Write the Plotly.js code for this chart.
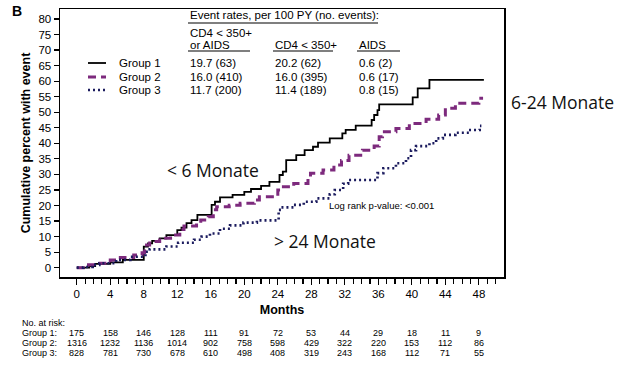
<!DOCTYPE html>
<html>
<head>
<meta charset="utf-8">
<script src="https://cdn.plot.ly/plotly-3.0.1.min.js"></script>
<style>html,body{margin:0;padding:0;background:#fff;}#chart{width:620px;height:367px;}</style>
</head>
<body>
<div id="chart"></div>
<script>
// ---- data ----
const groupNames = ["Group 1", "Group 2", "Group 3"];
const g1Months = [0,1.5,2.2,4,5.5,8,8.5,9,9.9,10.7,12,12.5,13.1,13.7,14.4,16.1,16.5,17.1,18.6,20,20.8,22,23,24.2,24.6,25,26.2,27.2,28.2,28.8,30.2,31.7,32.1,33.3,35.2,35.5,35.9,36.1,40.1,40.7,42.1,48.6];
const g1Pct    = [0,0.5,1.2,1.7,2.5,6.8,7.8,8.6,9.4,10.5,12.1,12.9,14.3,15.3,17,20.2,21.2,22.6,23.4,24.4,25.3,26.3,27.6,29.8,30.9,34.6,36.2,37.8,38.9,40.2,41.6,43.2,44.3,45.7,47.5,49.1,50.7,52.5,54.8,57.7,60.4,60.4];
const g2Months = [0,1,1.4,2.3,4,5.2,6.8,7.8,8.1,8.7,9.9,11.2,12.3,12.8,14.3,14.8,15.7,16.3,16.7,18.2,19.5,21.2,21.8,24,24.3,25.9,27.6,27.9,29.4,30.7,31.6,32.5,34.1,35.5,36.1,36.5,38.1,39.7,41.7,43.2,44,45.2,48,48.5];
const g2Pct    = [0,0.4,0.9,1.4,2.5,3.3,4.1,4.8,7.3,8.4,9.5,10.5,12.3,13.4,14.3,15.3,16.4,18.6,19.6,20.1,20.7,21.8,22.8,25,26,27.1,29.3,30.4,31.4,33,34.5,36.2,37.8,39.1,42.1,43.7,44.8,46.4,47.7,49.1,51.3,52.9,54.5,54.5];
const g3Months = [0,0.8,1.9,2.7,4.7,6.4,8.2,8.7,10.7,12.1,14,14.9,15.9,17.1,18.3,19.9,21.5,24.1,24.4,25.9,27.1,28.6,30.2,30.8,31.8,32.4,35.9,36.6,38.1,39.3,39.9,40.5,42.1,42.9,43.7,45.2,46.8,48.1,48.3];
const g3Pct    = [0,0.2,0.9,1.4,2.5,3.5,5.1,5.9,6.8,8,9,10,11,12.5,13.6,14.5,15.2,18.6,19.4,20.2,21.2,22.3,23.6,25,27,28.2,30.4,32,33.6,35.2,37.8,39.1,40,41.6,42.7,43.4,44.3,45.6,45.6];

const xTickVals = [0,4,8,12,16,20,24,28,32,36,40,44,48];
const riskMonths = [0,4,8,12,16,20,24,28,32,36,40,44,48];
const risk1 = [175,158,146,128,111,91,72,53,44,29,18,11,9];
const risk2 = [1316,1232,1136,1014,902,758,598,429,322,220,153,112,86];
const risk3 = [828,781,730,678,610,498,408,319,243,168,112,71,55];

const tableHeader = "Event rates, per 100 PY (no. events):";
const colHeads = [["CD4 &lt; 350+", "or AIDS"], ["CD4 &lt; 350+"], ["AIDS"]];
const rateCol1 = ["19.7 (63)", "16.0 (410)", "11.7 (200)"];
const rateCol2 = ["20.2 (62)", "16.0 (395)", "11.4 (189)"];
const rateCol3 = ["0.6 (2)", "0.6 (17)", "0.8 (15)"];

// ---- styles ----
const colors = ["#000000", "#7d2a7d", "#1b1b5e"];
const dashes = ["solid", "8px,5px", "2px,3px"];
const widths = [1.8, 3, 2.6];

// plot area in pixels (for layout helpers)
const L = 60, R = 504, T = 9, B = 277;
const px = x => (x - L) / (R - L);
const py = y => (B - y) / (B - T);

const FONT = "Liberation Sans, Arial, sans-serif";

const series = [[g1Months, g1Pct], [g2Months, g2Pct], [g3Months, g3Pct]];
const traces = series.map((s, i) => ({
  x: s[0], y: s[1], type: "scatter", mode: "lines", name: groupNames[i],
  line: {shape: "hv", color: colors[i], dash: dashes[i], width: widths[i]},
  showlegend: false, hoverinfo: "skip"
}));

const annotations = [];
const shapes = [];
function txt(x, y, text, opts) {
  annotations.push(Object.assign({
    xref: "paper", yref: "paper", x: px(x), y: py(y), text: text, showarrow: false,
    xanchor: "left", yanchor: "middle", font: {family: FONT, size: 11.5, color: "#000"}
  }, opts || {}));
}
function hline(x0, x1, y, w) {
  shapes.push({type: "line", xref: "paper", yref: "paper", x0: px(x0), x1: px(x1), y0: py(y), y1: py(y),
    line: {color: "#000", width: w || 1.2}});
}

// panel letter
txt(10, 11, "<b>B</b>", {font: {family: FONT, size: 14, color: "#000"}});

// manual legend
const legRows = [63, 77, 90];
groupNames.forEach((n, i) => {
  shapes.push({type: "line", xref: "paper", yref: "paper", x0: px(88), x1: px(106), y0: py(legRows[i]), y1: py(legRows[i]),
    line: {color: colors[i], dash: dashes[i], width: widths[i]}});
  txt(117, legRows[i], n);
});

// event-rate table
txt(188, 15, tableHeader);
hline(188, 378, 23);
txt(188, 33, colHeads[0][0]);
txt(188, 45, colHeads[0][1]);
txt(273, 45, colHeads[1][0]);
txt(357, 45, colHeads[2][0]);
hline(188, 250, 51);
hline(273, 333, 51);
hline(357, 400, 51);
const colX = [188, 273, 357];
[rateCol1, rateCol2, rateCol3].forEach((col, c) => {
  col.forEach((v, r) => txt(colX[c], legRows[r], v));
});

// big labels
const bigFont = {family: "Open Sans, Noto Sans, sans-serif", size: 17.5, color: "#111"};
txt(213, 170, "&lt; 6 Monate", {xanchor: "center", font: bigFont});
txt(325, 241, "&gt; 24 Monate", {xanchor: "center", font: bigFont});
txt(562, 102, "6-24 Monate", {xanchor: "center", font: bigFont});

// log rank
txt(327, 205, "Log rank p-value: &lt;0.001", {font: {family: FONT, size: 9.5, color: "#000"}});

// number at risk
const riskFont = {family: FONT, size: 9, color: "#000"};
txt(20, 323, "No. at risk:", {font: riskFont});
const riskRowsY = [333, 343, 353];
[risk1, risk2, risk3].forEach((arr, g) => {
  txt(20, riskRowsY[g], groupNames[g] + ":", {font: riskFont});
  arr.forEach((v, i) => {
    annotations.push({xref: "x", yref: "paper", x: riskMonths[i], y: py(riskRowsY[g]), text: String(v),
      showarrow: false, xanchor: "center", yanchor: "middle", font: riskFont});
  });
});

const layout = {
  width: 620, height: 367, autosize: false,
  margin: {l: L, r: 620 - R, t: T, b: 367 - B, pad: 0},
  paper_bgcolor: "#fff", plot_bgcolor: "#fff",
  font: {family: FONT, size: 11, color: "#000"},
  showlegend: false,
  xaxis: {
    range: [-2, 51], tickvals: xTickVals, ticktext: xTickVals.map(String),
    ticks: "outside", ticklen: 6, tickwidth: 1.2, tickcolor: "#000",
    minor: {tickvals: Array.from({length: 51}, (_, i) => i), ticks: "outside", ticklen: 5, tickwidth: 1.2, tickcolor: "#000"},
    showline: true, mirror: true, linecolor: "#000", linewidth: 1.5,
    showgrid: false, zeroline: false,
    tickfont: {family: FONT, size: 11.5, color: "#000"},
    title: {text: "<b>Months</b>", font: {family: FONT, size: 12.5, color: "#000"}, standoff: 6}
  },
  yaxis: {
    range: [-3, 83.2], tick0: 0, dtick: 5,
    ticks: "outside", ticklen: 5, tickwidth: 1.2, tickcolor: "#000",
    showline: true, mirror: true, linecolor: "#000", linewidth: 1.5,
    showgrid: false, zeroline: false,
    tickfont: {family: FONT, size: 11.5, color: "#000"},
    title: {text: "<b>Cumulative percent with event</b>", font: {family: FONT, size: 12.5, color: "#000"}, standoff: 5}
  },
  annotations: annotations,
  shapes: shapes
};

Plotly.newPlot("chart", traces, layout, {staticPlot: true, displayModeBar: false});
</script>
</body>
</html>
